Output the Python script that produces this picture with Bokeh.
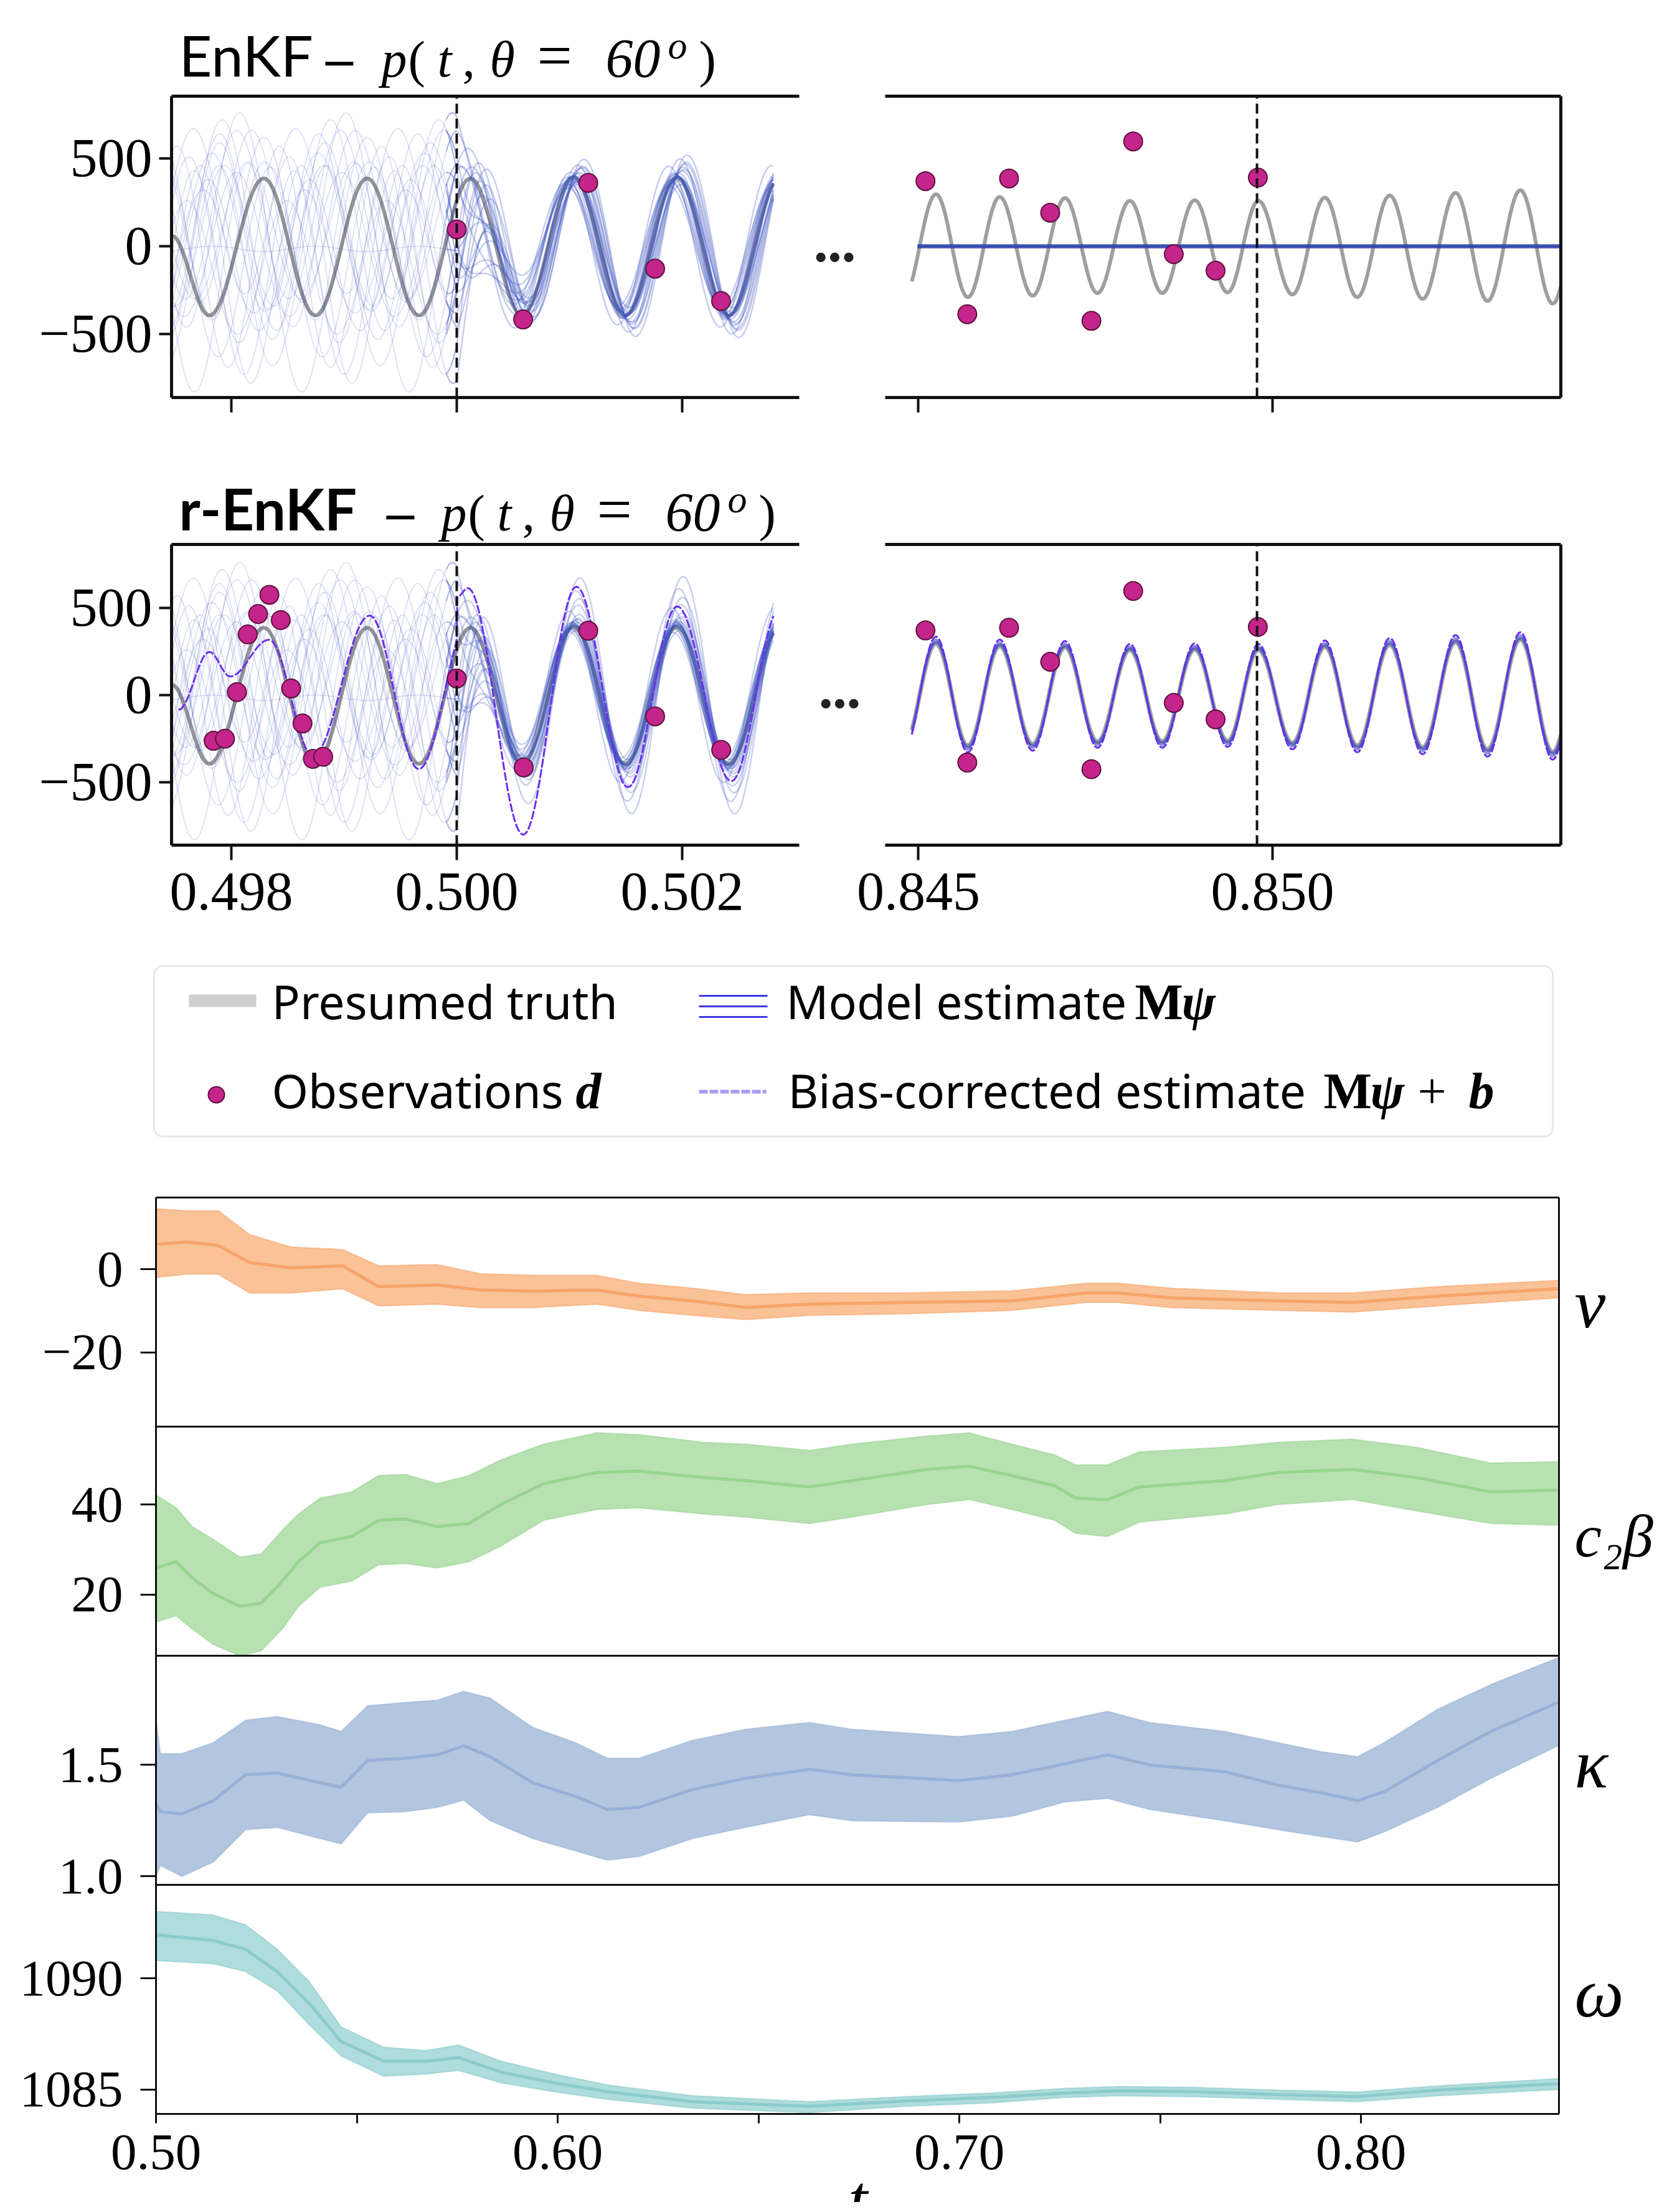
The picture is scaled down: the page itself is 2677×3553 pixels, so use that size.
import numpy as np
from bokeh.plotting import figure
from bokeh.models import (Range1d, FixedTicker, BoxAnnotation, LinearAxis, CustomJSTickFormatter)
from bokeh.core.properties import value
from bokeh.embed import file_html
from bokeh.resources import INLINE

# ===================== data =====================
PERIOD = 0.000916            # period of the pressure oscillation (s)
TRUTH_PEAK_REF = 0.500121    # a peak time of the presumed truth (s)

# presumed truth, early window: extrema (time, value)
TRUTH_L_T = [0.49747, 0.497805, 0.498289, 0.498746, 0.499205, 0.499664, 0.500121,
             0.500580, 0.501037, 0.501496, 0.501953, 0.502412, 0.502870]
TRUTH_L_V = [60, -394, 386, -394, 386, -394, 386, -394, 390, -394, 390, -394, 390]

# presumed truth, late window: extrema (time, value)
TRUTH_R_T = [0.844789, 0.845247, 0.845697, 0.846147, 0.846612, 0.847069, 0.847527,
             0.847985, 0.848443, 0.848900, 0.849365, 0.849800, 0.850280, 0.850738,
             0.851196, 0.851654, 0.852119, 0.852584, 0.853034, 0.853499, 0.853956, 0.854400]
TRUTH_R_V = [-290, 296, -290, 281, -282, 274, -267, 259, -267, 262, -263, 259, -275,
             277, -290, 289, -300, 304, -312, 319, -327, 320]

# bias-corrected estimate (r-EnKF), late window: extrema values at TRUTH_R_T
BC_R_V = [-328, 335, -328, 318, -319, 310, -302, 293, -302, 296, -297, 293, -311,
          313, -328, 327, -339, 344, -353, 360, -370, 362]

# bias-corrected estimate (r-EnKF), early window (before / after t = 0.5)
BC_PRE_T = [0.497531, 0.497806, 0.497990, 0.498334, 0.498724, 0.499228, 0.499663, 0.500121]
BC_PRE_V = [-84, 247, 107, 317, -345, 456, -424, 456]
BC_POST_T = [0.500000, 0.500099, 0.500590, 0.501062, 0.501519, 0.501956, 0.502437, 0.502870]
BC_POST_V = [560, 613, -800, 621, -528, 508, -493, 500]

# observations d
OBS_L1_T = [0.500000, 0.500589, 0.501167, 0.501760, 0.502345]
OBS_L1_P = [96, -417, 361, -128, -312]
OBS_L2_T = [0.497843, 0.497944, 0.498050, 0.498146, 0.498238, 0.498338, 0.498439, 0.498531,
            0.498632, 0.498724, 0.498815, 0.500000, 0.500594, 0.501167, 0.501760, 0.502346]
OBS_L2_P = [-262, -250, 17, 348, 465, 575, 430, 38, -163, -366, -354, 95, -415, 369, -122, -314]
OBS_R_T = [0.845099, 0.845689, 0.846279, 0.846860, 0.847442, 0.848032, 0.848605, 0.849195, 0.849792]
OBS_R_P = [371, -387, 386, 191, -425, 597, -45, -139, 391]

# ensemble members (forecast before t = 0.5): amplitude, phase (fraction of period), offset, period scale
PRE_AMP = [520, 430, 610, 380, 560, 470, 650, 400, 540, 600, 350, 490,
           580, 450, 630, 410, 500, 570, 440, 620, 390, 530, 480, 15]
PRE_PHASE = [0.00, 0.41, 0.83, 0.17, 0.62, 0.29, 0.93, 0.52, 0.08, 0.71, 0.36, 0.88,
             0.24, 0.57, 0.13, 0.78, 0.47, 0.66, 0.03, 0.33, 0.91, 0.19, 0.74, 0.50]
PRE_OFF = [100, -50, 150, -120, 30, 200, -180, 60, -90, 120, -30, 170,
           -150, 80, -60, 10, 140, -110, 40, -160, 90, -20, 180, -15]
PRE_PSCALE = [1.00, 0.98, 1.03, 0.97, 1.02, 0.99, 1.04, 0.96, 1.01, 1.05, 0.98, 1.00,
              0.97, 1.03, 0.99, 1.02, 0.96, 1.04, 1.01, 0.98, 1.03, 0.97, 1.00, 1.00]
# ensemble members after assimilation starts: amplitude, phase shift (fraction of period)
POST1_AMP = [390, 400, 410, 380, 420, 450, 360, 500, 395, 405, 470, 340,
             430, 385, 415, 520, 375, 440, 398, 460, 350, 410, 480, 392]
POST1_SHIFT = [0.00, 0.02, -0.02, 0.04, -0.03, 0.06, -0.05, 0.03, 0.01, -0.01, 0.08, -0.07,
               0.05, -0.04, 0.02, 0.10, -0.06, 0.07, 0.00, -0.08, 0.04, -0.02, 0.09, 0.01]
POST2_AMP = [400, 410, 395, 420, 430, 520, 380, 610, 405, 415, 470, 360,
             440, 400, 425, 680, 390, 450, 405, 500, 370, 420, 560, 400]
POST2_SHIFT = [0.00, 0.015, -0.015, 0.03, -0.02, 0.04, -0.03, 0.02, 0.01, -0.01, 0.05, -0.04,
               0.03, -0.025, 0.015, 0.06, -0.035, 0.045, 0.00, -0.05, 0.025, -0.01, 0.055, 0.005]
# EnKF late window: members collapsed to a flat line (offsets)
FLAT_OFF = [-8, -5, -2, 0, 2, 4, 7, -3, 5, -6]
# r-EnKF late window: members (amplitude scale, time shift in s)
R2_SCALE = [1.00, 1.03, 1.06, 1.02, 1.08, 1.05, 1.01, 1.07, 1.04, 1.09]
R2_SHIFT = [0.0, 6e-6, -6e-6, 3e-6, -3e-6, 9e-6, -9e-6, 0.0, 4e-6, -4e-6]

# parameter time series (bottom panels): time, mean, upper, lower
NU_T = [0.5, 0.5077, 0.5155, 0.5233, 0.5336, 0.5465, 0.5554, 0.5700, 0.5806, 0.5938, 0.6097, 0.6203,
        0.6336, 0.6468, 0.6627, 0.6866, 0.7131, 0.7316, 0.7396, 0.7528, 0.7793, 0.7979, 0.8191, 0.849]
NU_MEAN = [6.0, 6.5, 5.7, 1.6, 0.3, 0.8, -4.2, -3.8, -5.0, -5.3, -5.0, -6.5,
           -7.6, -9.2, -8.4, -8.0, -7.6, -5.7, -5.7, -6.9, -7.6, -8.0, -6.5, -4.7]
NU_UP = [14.5, 14.0, 14.0, 8.3, 5.3, 4.7, 0.8, 1.1, -1.1, -1.5, -1.5, -3.4,
         -4.6, -6.1, -5.7, -5.7, -5.2, -3.4, -3.4, -4.6, -5.7, -5.7, -4.2, -2.7]
NU_LO = [-2.0, -1.2, -1.2, -5.7, -5.7, -4.7, -8.8, -8.4, -9.2, -9.2, -8.4, -9.9,
         -11.1, -12.1, -11.1, -10.7, -9.9, -8.0, -8.0, -9.2, -9.9, -10.3, -8.8, -6.9]

CB_T = [0.5, 0.5050, 0.5090, 0.5143, 0.5209, 0.5262, 0.5315, 0.5355, 0.5408, 0.5488, 0.5554, 0.5620,
        0.5700, 0.5779, 0.5859, 0.5965, 0.6097, 0.6203, 0.6362, 0.6468, 0.6627, 0.6733, 0.6919, 0.7025,
        0.7131, 0.7237, 0.7290, 0.7369, 0.7449, 0.7661, 0.7793, 0.7979, 0.8138, 0.8323, 0.849]
CB_MEAN = [25.9, 27.3, 23.7, 20.2, 17.4, 18.1, 23.0, 27.3, 31.5, 32.9, 36.5, 36.8, 35.1, 35.8, 40.0,
           44.6, 47.1, 47.4, 46.0, 45.3, 43.9, 45.3, 47.8, 48.5, 46.4, 44.2, 41.4, 41.1, 43.9, 45.3,
           47.1, 47.8, 46.0, 42.8, 43.2]
CB_UP = [42.1, 39.3, 35.1, 32.2, 28.3, 29.0, 34.3, 37.9, 41.4, 42.8, 46.4, 46.7, 44.6, 46.4, 49.9,
         53.4, 55.9, 55.5, 53.8, 53.4, 52.0, 53.4, 55.2, 55.9, 53.4, 51.0, 48.8, 48.8, 51.7, 52.7,
         53.8, 54.5, 52.7, 49.2, 49.5]
CB_LO = [13.9, 15.3, 12.4, 8.9, 6.4, 7.5, 12.4, 17.4, 21.6, 23.0, 26.6, 26.9, 25.9, 27.3, 30.8,
         36.5, 38.9, 39.3, 37.9, 37.2, 35.8, 37.2, 40.0, 41.1, 38.9, 36.5, 33.6, 32.9, 36.1, 37.9,
         40.0, 41.1, 38.6, 35.8, 35.4]

KA_T = [0.5, 0.5011, 0.5064, 0.5143, 0.5223, 0.5302, 0.5408, 0.5461, 0.5527, 0.5620, 0.5700, 0.5766,
        0.5832, 0.5938, 0.6044, 0.6124, 0.6203, 0.6336, 0.6468, 0.6627, 0.6733, 0.6998, 0.7131, 0.7263,
        0.7369, 0.7475, 0.7661, 0.7793, 0.7899, 0.7992, 0.8058, 0.8191, 0.8323, 0.849]
KA_MEAN = [1.326, 1.29, 1.28, 1.34, 1.456, 1.464, 1.42, 1.40, 1.52, 1.53, 1.545, 1.586, 1.537, 1.42,
           1.36, 1.30, 1.31, 1.39, 1.44, 1.48, 1.456, 1.43, 1.456, 1.505, 1.545, 1.50, 1.47, 1.41,
           1.375, 1.34, 1.38, 1.52, 1.65, 1.78]
KA_UP = [1.70, 1.55, 1.55, 1.60, 1.70, 1.717, 1.68, 1.65, 1.765, 1.78, 1.79, 1.83, 1.80, 1.668,
         1.60, 1.53, 1.53, 1.61, 1.66, 1.69, 1.66, 1.627, 1.65, 1.70, 1.74, 1.69, 1.65, 1.60,
         1.56, 1.537, 1.60, 1.75, 1.86, 1.98]
KA_LO = [1.00, 1.05, 1.00, 1.065, 1.21, 1.22, 1.17, 1.146, 1.285, 1.29, 1.31, 1.342, 1.25, 1.17,
         1.114, 1.073, 1.09, 1.17, 1.22, 1.277, 1.25, 1.244, 1.27, 1.334, 1.35, 1.30, 1.25, 1.21,
         1.18, 1.155, 1.20, 1.31, 1.44, 1.586]

OM_T = [0.5, 0.5143, 0.5223, 0.5302, 0.5382, 0.5461, 0.5567, 0.5673, 0.5753, 0.5859, 0.5991, 0.6124,
        0.6336, 0.6627, 0.6866, 0.7078, 0.7263, 0.7396, 0.7581, 0.7793, 0.7992, 0.8191, 0.849]
OM_MEAN = [1091.95, 1091.7, 1091.3, 1090.3, 1088.86, 1087.16, 1086.27, 1086.27, 1086.43, 1085.78,
           1085.3, 1084.9, 1084.45, 1084.24, 1084.48, 1084.64, 1084.84, 1084.94, 1084.9, 1084.77,
           1084.68, 1084.97, 1085.26]
OM_UP = [1093.0, 1092.84, 1092.4, 1091.3, 1089.84, 1087.81, 1086.9, 1086.75, 1087.0, 1086.27,
         1085.7, 1085.2, 1084.72, 1084.45, 1084.68, 1084.84, 1085.05, 1085.13, 1085.1, 1084.97,
         1084.89, 1085.16, 1085.49]
OM_LO = [1090.8, 1090.65, 1090.3, 1089.43, 1087.9, 1086.51, 1085.6, 1085.7, 1085.86, 1085.3,
         1084.9, 1084.56, 1084.16, 1083.96, 1084.24, 1084.4, 1084.64, 1084.72, 1084.68, 1084.56,
         1084.45, 1084.72, 1085.0]

# axis limits of the panels
XL_LIM = (0.49747, 0.50300)
XR_LIM = (0.84453, 0.85407)
XB_LIM = (0.5, 0.8493)
Y1_LIM = (-861.7, 854.6)
Y2_LIM = (-860.7, 864.0)
YV_LIM = (-37.8, 17.2)
YC_LIM = (6.4, 57.3)
YK_LIM = (0.962, 1.99)
YW_LIM = (1083.9, 1094.2)

# ===================== page geometry & helpers =====================
W, H = 2661, 3537
PX0, PX1 = 0, W          # canvas position in screenshot pixels (measured)
PY0, PY1 = 0, H

SERIF = "Liberation Serif"
SANS = "Noto Sans"
TITLE_SANS = "Lato"
DASH_FONT = "DejaVu Sans"
MID = {SERIF: 0.338, SANS: 0.388, TITLE_SANS: 0.387, DASH_FONT: 0.347}   # baseline -> middle (em)
INK = "#111111"

p = figure(width=W, height=H, x_range=Range1d(PX0, PX1), y_range=Range1d(PY1, PY0), title=None,
           x_axis_location=None, y_axis_location=None, toolbar_location=None, output_backend="svg",
           min_border_left=0, min_border_right=0, min_border_top=0, min_border_bottom=0)
for g in p.grid:
    g.visible = False
p.outline_line_color = None
p.background_fill_color = "white"
p.border_fill_color = "white"


def xrng(lim, pa, pb):
    s = (lim[1] - lim[0]) / (pb - pa)
    return Range1d(lim[0] + (PX0 - pa) * s, lim[0] + (PX1 - pa) * s)


def yrng(lim, p_bottom, p_top):
    s = (lim[1] - lim[0]) / (p_top - p_bottom)
    return Range1d(lim[0] + (PY1 - p_bottom) * s, lim[0] + (PY0 - p_bottom) * s)


# panel frames in screenshot pixels
L1 = dict(l=275, r=1276, t=154, b=638)
R1 = dict(l=1421, r=2506, t=154, b=638)
L2 = dict(l=275, r=1276, t=874, b=1357)
R2 = dict(l=1421, r=2506, t=874, b=1357)
BL, BR = 250, 2503
BY = [1923, 2291, 2659, 3027, 3395]

p.extra_x_ranges = {
    "xl": xrng(XL_LIM, L1["l"], L1["r"]),
    "xr": xrng(XR_LIM, R1["l"], R1["r"]),
    "xb": xrng(XB_LIM, BL, BR),
}
p.extra_y_ranges = {
    "y1": yrng(Y1_LIM, L1["b"], L1["t"]),
    "y2": yrng(Y2_LIM, L2["b"], L2["t"]),
    "yv": yrng(YV_LIM, BY[1], BY[0]),
    "yc": yrng(YC_LIM, BY[2], BY[1]),
    "yk": yrng(YK_LIM, BY[3], BY[2]),
    "yw": yrng(YW_LIM, BY[4], BY[3]),
}


def ext_wave(ts, vs, t):
    """Smooth half-cosine curve through read extrema."""
    t = np.asarray(t, dtype=float)
    out = np.full(t.shape, np.nan)
    for k in range(len(ts) - 1):
        m = (t >= ts[k]) & (t <= ts[k + 1])
        s = (t[m] - ts[k]) / (ts[k + 1] - ts[k])
        out[m] = vs[k] + (vs[k + 1] - vs[k]) * (1 - np.cos(np.pi * s)) / 2
    return out


def txt(x, base, s, size, font=SERIF, style="normal", align="left", color="black"):
    """Text placed by its alphabetic baseline (converted to a middle anchor)."""
    p.text(x=[x], y=[base - MID[font] * size], text=[s], text_font=value(font),
           text_font_size=value(f"{size}px"), text_font_style=style, text_align=align,
           text_baseline="middle", text_color=color)


def seg(x0, y0, x1, y1, w, color=INK, dash="solid", xr="default", yr="default"):
    p.segment(x0=[x0], y0=[y0], x1=[x1], y1=[y1], line_width=w, line_color=color,
              line_dash=dash, x_range_name=xr, y_range_name=yr)


def style_axis(ax, ticks, code, size, tick_out, tick_w, standoff):
    ax.ticker = FixedTicker(ticks=ticks)
    ax.formatter = CustomJSTickFormatter(code=code)
    ax.axis_line_color = None
    ax.major_tick_out = tick_out
    ax.major_tick_in = 0
    ax.major_tick_line_width = tick_w
    ax.major_tick_line_color = INK
    ax.minor_tick_line_color = None
    ax.major_label_text_font = SERIF
    ax.major_label_text_font_size = f"{size}px"
    ax.major_label_standoff = standoff
    ax.major_label_text_color = "black"


def y_axis(yr, x_page, ticks, code, size, tick_out, tick_w, standoff):
    ax = LinearAxis(y_range_name=yr, fixed_location=x_page)
    style_axis(ax, ticks, code, size, tick_out, tick_w, standoff)
    p.add_layout(ax, "left")


def x_axis(xr, y_page, ticks, code, size, tick_out, tick_w, standoff):
    ax = LinearAxis(x_range_name=xr, fixed_location=y_page)
    style_axis(ax, ticks, code, size, tick_out, tick_w, standoff)
    p.add_layout(ax, "below")


MINUS_CODE = "return tick < 0 ? '\u2212' + Math.abs(tick).toString() : tick.toString();"
FIX3 = "return tick.toFixed(3);"
BLANK = "return '';"

OBS_FILL = "#c4258b"
OBS_LINE = "#5e1040"
ENS_COLOR = "#3b52c0"
TRUTH_COLOR = "#8a8a8a"
BC_COLOR = "#6a2ff0"

T_L = np.linspace(0.49747, 0.50281, 700)
T_R = np.linspace(0.844906, 0.85407, 900)
PRE_MASK = T_L <= 0.5
POST_MASK = T_L >= 0.4999


def ensemble(post_amp, post_shift, tau):
    ys = []
    for i in range(len(PRE_AMP)):
        pre = PRE_OFF[i] + PRE_AMP[i] * np.cos(
            2 * np.pi * ((T_L - TRUTH_PEAK_REF) / (PERIOD * PRE_PSCALE[i]) - PRE_PHASE[i]))
        post = post_amp[i] * np.cos(2 * np.pi * ((T_L - TRUTH_PEAK_REF) / PERIOD - post_shift[i]))
        w = np.where(T_L < 0.5, 1.0, np.exp(-(T_L - 0.5) / tau))
        ys.append(w * pre + (1 - w) * post)
    return ys


def draw_ensemble(ys, yr, a_pre, a_post):
    p.multi_line([T_L[PRE_MASK] for _ in ys], [y[PRE_MASK] for y in ys], line_color=ENS_COLOR,
                 line_alpha=a_pre, line_width=1.6, x_range_name="xl", y_range_name=yr)
    p.multi_line([T_L[POST_MASK] for _ in ys], [y[POST_MASK] for y in ys], line_color=ENS_COLOR,
                 line_alpha=a_post, line_width=2.4, x_range_name="xl", y_range_name=yr)


truth_l = ext_wave(TRUTH_L_T, TRUTH_L_V, T_L)
truth_r = ext_wave(TRUTH_R_T, TRUTH_R_V, T_R)


def left_frame(F):
    seg(F["l"], F["t"], F["l"], F["b"], 5)
    seg(F["l"], F["t"], F["r"] + 7, F["t"], 5)
    seg(F["l"], F["b"], F["r"] + 7, F["b"], 5)


def right_frame(F):
    seg(F["r"], F["t"], F["r"], F["b"], 5)
    seg(F["l"], F["t"], F["r"], F["t"], 5)
    seg(F["l"], F["b"], F["r"], F["b"], 5)


# ===================== row 1 : EnKF =====================
p.line(T_L, truth_l, line_color=TRUTH_COLOR, line_width=6, line_alpha=0.9, x_range_name="xl", y_range_name="y1")
draw_ensemble(ensemble(POST1_AMP, POST1_SHIFT, 0.00035), "y1", 0.2, 0.3)
p.scatter(OBS_L1_T, OBS_L1_P, size=30, fill_color=OBS_FILL, line_color=OBS_LINE, line_width=2,
          x_range_name="xl", y_range_name="y1")
seg(0.5, Y1_LIM[0], 0.5, Y1_LIM[1], 4, dash="16 8", xr="xl", yr="y1")

p.line(T_R, truth_r, line_color="#9a9a9a", line_width=6, line_alpha=0.95, x_range_name="xr", y_range_name="y1")
T_FLAT = T_R[T_R >= 0.844984]
p.multi_line([T_FLAT for _ in FLAT_OFF], [np.full(T_FLAT.shape, float(o)) for o in FLAT_OFF],
             line_color="#3346b0", line_alpha=0.45, line_width=3, x_range_name="xr", y_range_name="y1")
p.scatter(OBS_R_T, OBS_R_P, size=30, fill_color=OBS_FILL, line_color=OBS_LINE, line_width=2,
          x_range_name="xr", y_range_name="y1")
seg(0.84978, Y1_LIM[0], 0.84978, Y1_LIM[1], 4, dash="16 8", xr="xr", yr="y1")

left_frame(L1)
right_frame(R1)
y_axis("y1", L1["l"], [-500, 0, 500], MINUS_CODE, 88, 20, 4, 11)
x_axis("xl", L1["b"], [0.498, 0.5, 0.502], BLANK, 10, 24, 4, 0)
x_axis("xr", R1["b"], [0.845, 0.85], BLANK, 10, 24, 4, 0)

# ===================== row 2 : r-EnKF =====================
p.line(T_L, truth_l, line_color=TRUTH_COLOR, line_width=6, line_alpha=0.9, x_range_name="xl", y_range_name="y2")
draw_ensemble(ensemble(POST2_AMP, POST2_SHIFT, 0.00025), "y2", 0.2, 0.28)
t_pre = T_L[(T_L >= BC_PRE_T[0]) & (T_L < 0.5)]
t_post = T_L[T_L >= 0.5]
bc_t = np.concatenate([t_pre, t_post])
bc_v = np.concatenate([ext_wave(BC_PRE_T, BC_PRE_V, t_pre), ext_wave(BC_POST_T, BC_POST_V, t_post)])
p.line(bc_t, bc_v, line_color=BC_COLOR, line_width=3, line_dash="14 3", x_range_name="xl", y_range_name="y2")
p.scatter(OBS_L2_T, OBS_L2_P, size=30, fill_color=OBS_FILL, line_color=OBS_LINE, line_width=2,
          x_range_name="xl", y_range_name="y2")
seg(0.5, Y2_LIM[0], 0.5, Y2_LIM[1], 4, dash="16 8", xr="xl", yr="y2")

p.line(T_R, truth_r, line_color="#9a9a9a", line_width=7, line_alpha=0.9, x_range_name="xr", y_range_name="y2")
r2xs, r2ys = [], []
for sc, sh in zip(R2_SCALE, R2_SHIFT):
    r2xs.append(T_R)
    r2ys.append(ext_wave([tt + sh for tt in TRUTH_R_T], [v * sc for v in TRUTH_R_V], T_R))
p.multi_line(r2xs, r2ys, line_color="#3a48c4", line_alpha=0.3, line_width=2, x_range_name="xr", y_range_name="y2")
p.line(T_R, ext_wave(TRUTH_R_T, BC_R_V, T_R), line_color=BC_COLOR, line_width=3, line_dash="14 3",
       x_range_name="xr", y_range_name="y2")
p.scatter(OBS_R_T, OBS_R_P, size=30, fill_color=OBS_FILL, line_color=OBS_LINE, line_width=2,
          x_range_name="xr", y_range_name="y2")
seg(0.84978, Y2_LIM[0], 0.84978, Y2_LIM[1], 4, dash="16 8", xr="xr", yr="y2")

left_frame(L2)
right_frame(R2)
y_axis("y2", L2["l"], [-500, 0, 500], MINUS_CODE, 88, 20, 4, 11)
x_axis("xl", L2["b"], [0.498, 0.5, 0.502], FIX3, 88, 24, 4, 21)
x_axis("xr", R2["b"], [0.845, 0.85], FIX3, 88, 24, 4, 21)

# ----- titles (mixed fonts) -----
def title(base, sup_base, pieces):
    for s, px, font, size, style, sup in pieces:
        txt(px, sup_base if sup else base, s, size, font=font, style=style)


title(123, 93, [
    ("EnKF", 287, TITLE_SANS, 92, "normal", False),
    ("\u2212", 514, DASH_FONT, 72, "normal", False),
    ("p", 612, SERIF, 82, "italic", False),
    ("(", 655, SERIF, 82, "normal", False),
    ("t", 702, SERIF, 82, "italic", False),
    (",", 742, SERIF, 82, "normal", False),
    ("\u03b8", 786, SERIF, 82, "italic", False),
    ("=", 862, SERIF, 100, "normal", False),
    ("60", 972, SERIF, 88, "italic", False),
    ("o", 1072, SERIF, 62, "italic", True),
    (")", 1122, SERIF, 82, "normal", False),
])
title(852, 822, [
    ("r-EnKF", 287, TITLE_SANS, 92, "bold", False),
    ("\u2212", 612, DASH_FONT, 72, "normal", False),
    ("p", 708, SERIF, 82, "italic", False),
    ("(", 751, SERIF, 82, "normal", False),
    ("t", 798, SERIF, 82, "italic", False),
    (",", 838, SERIF, 82, "normal", False),
    ("\u03b8", 882, SERIF, 82, "italic", False),
    ("=", 958, SERIF, 100, "normal", False),
    ("60", 1068, SERIF, 88, "italic", False),
    ("o", 1168, SERIF, 62, "italic", True),
    (")", 1218, SERIF, 82, "normal", False),
])
p.text(x=[1340, 1348], y=[413, 1130], text=["\u2022\u2022\u2022", "\u2022\u2022\u2022"],
       text_font=value(SERIF), text_font_size=value("64px"), text_align="center",
       text_baseline="middle", text_color="#222222")

# ===================== legend =====================
p.add_layout(BoxAnnotation(left=247, right=2493, top=1551, bottom=1825, fill_color="white", fill_alpha=1.0,
                           line_color="#b4b4b4", line_width=3, border_radius=14, level="underlay"))
p.line([303, 411], [1607, 1607], line_color="#cfcfcf", line_width=20)
for yy in (1599, 1616, 1633):
    p.line([1122, 1232], [yy, yy], line_color="#3a3ae6", line_width=3)
p.scatter([347], [1758], size=26, fill_color=OBS_FILL, line_color=OBS_LINE, line_width=2)
p.line([1122, 1230], [1753, 1753], line_color="#a99cf2", line_width=6, line_dash="14 3")
txt(436, 1637, "Presumed truth", 75, font=SANS)
txt(1262, 1637, "Model estimate", 75, font=SANS)
txt(1822, 1637, "M", 82, style="bold")
txt(1897, 1637, "\u03c8", 82, style="bold italic")
txt(436, 1780, "Observations", 75, font=SANS)
txt(924, 1780, "d", 82, style="bold italic")
txt(1265, 1780, "Bias-corrected estimate", 75, font=SANS)
txt(2125, 1780, "M", 82, style="bold")
txt(2200, 1780, "\u03c8", 82, style="bold italic")
txt(2276, 1780, "+", 82)
txt(2358, 1780, "b", 82, style="bold italic")

# ===================== parameter panels =====================
PANELS = [
    ("yv", NU_T, NU_MEAN, NU_UP, NU_LO, "#f9bb8c", "#f7a46a", [-20, 0], MINUS_CODE, "\u03bd", 2131, 112),
    ("yc", CB_T, CB_MEAN, CB_UP, CB_LO, "#b0deaa", "#98d490", [20, 40], MINUS_CODE, "c\u2082\u03b2", 2500, 98),
    ("yk", KA_T, KA_MEAN, KA_UP, KA_LO, "#abc0dc", "#96b0d6", [1.0, 1.5], "return tick.toFixed(1);", "\u03ba", 2870, 112),
    ("yw", OM_T, OM_MEAN, OM_UP, OM_LO, "#a6d8d8", "#8ccbcb", [1085, 1090], MINUS_CODE, "\u03c9", 3238, 112),
]
for yr, t, mean, up, lo, band, line, ticks, code, sym, sym_base, sym_size in PANELS:
    p.varea(x=t, y1=lo, y2=up, fill_color=band, fill_alpha=0.9, x_range_name="xb", y_range_name=yr)
    p.line(t, up, line_color=line, line_width=2, line_alpha=0.6, x_range_name="xb", y_range_name=yr)
    p.line(t, lo, line_color=line, line_width=2, line_alpha=0.6, x_range_name="xb", y_range_name=yr)
    p.line(t, mean, line_color=line, line_width=5, x_range_name="xb", y_range_name=yr)
    y_axis(yr, BL, ticks, code, 83, 25, 3, 28)
    txt(2528, sym_base, sym, sym_size, style="italic")

for yb in BY:
    seg(BL, yb, BR, yb, 3)
seg(BL, BY[0], BL, BY[-1], 3)
seg(BR, BY[0], BR, BY[-1], 3)
x_axis("xb", BY[-1], [0.5, 0.55, 0.6, 0.65, 0.7, 0.75, 0.8],
       "return (Math.round(tick*100) % 10 == 0) ? tick.toFixed(2) : '';", 83, 15, 3, 19)
txt(1377, 3570, "t", 112, style="italic", align="center")

open("out.html", "w").write(file_html(p, INLINE))
